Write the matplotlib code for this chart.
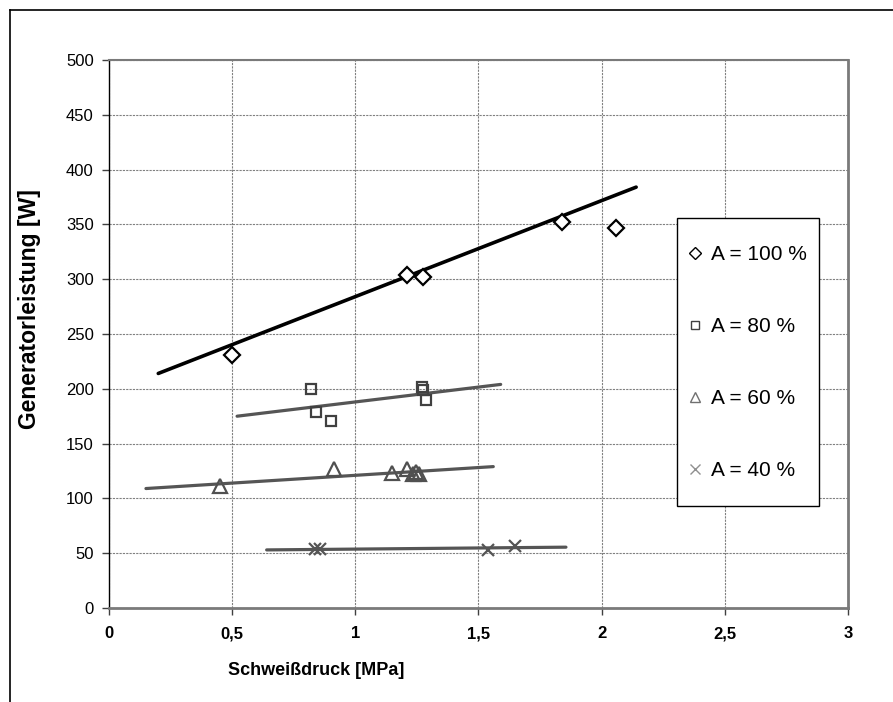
import matplotlib
matplotlib.use("Agg")
import matplotlib.pyplot as plt
from matplotlib.lines import Line2D
from matplotlib.patches import Rectangle

plt.rcParams['font.family'] = ['Liberation Sans', 'DejaVu Sans']

# measured points per amplitude
x_100 = [0.50, 1.21, 1.275, 1.84, 2.06]
y_100 = [231, 304, 302, 352, 347]

x_80 = [0.82, 0.84, 0.90, 1.27, 1.275, 1.285]
y_80 = [200, 179, 171, 202, 199, 190]

x_60 = [0.45, 0.915, 1.15, 1.21, 1.235, 1.245, 1.26]
y_60 = [111, 127, 123, 127, 122, 124, 122]

x_40 = [0.835, 0.855, 1.54, 1.65]
y_40 = [54, 54, 53, 57]

# linear trend lines (start/end)
trend_x_100 = [0.20, 2.14]
trend_y_100 = [214, 384]
trend_x_80 = [0.52, 1.59]
trend_y_80 = [175, 204]
trend_x_60 = [0.15, 1.56]
trend_y_60 = [109, 129]
trend_x_40 = [0.64, 1.855]
trend_y_40 = [53, 55.5]

labels = ['A = 100 %', 'A = 80 %', 'A = 60 %', 'A = 40 %']
x_ticks = [0, 0.5, 1, 1.5, 2, 2.5, 3]
x_ticklabels = ['0', '0,5', '1', '1,5', '2', '2,5', '3']
y_ticks = list(range(0, 501, 50))

W, H = 893, 702
fig = plt.figure(figsize=(W / 100, H / 100), dpi=100)
ax = fig.add_axes([109 / W, 1 - 608 / H, (848 - 109) / W, (608 - 60) / H])

ax.set_xlim(0, 3)
ax.set_ylim(0, 500)
ax.set_xticks(x_ticks)
ax.set_xticklabels(x_ticklabels, fontweight='bold', fontsize=12)
ax.set_yticks(y_ticks)
ax.tick_params(axis='y', labelsize=12, length=5, width=1, pad=6, color='#404040')
ax.tick_params(axis='x', length=5, width=1, pad=8, color='#404040')

ax.grid(True, color='#808080', linestyle=(0, (2, 1)), linewidth=0.8)
ax.set_axisbelow(True)

ax.spines['left'].set_color('black')
ax.spines['left'].set_linewidth(1.0)
for side in ('bottom', 'right', 'top'):
    ax.spines[side].set_color('#7a7a7a')
ax.spines['bottom'].set_linewidth(2.0)
ax.spines['right'].set_linewidth(2.0)
ax.spines['top'].set_linewidth(1.5)

# trend lines
ax.plot(trend_x_100, trend_y_100, color='black', lw=2.6, solid_capstyle='round')
ax.plot(trend_x_80, trend_y_80, color='#555555', lw=2.3, solid_capstyle='round')
ax.plot(trend_x_60, trend_y_60, color='#555555', lw=2.3, solid_capstyle='round')
ax.plot(trend_x_40, trend_y_40, color='#555555', lw=2.3, solid_capstyle='round')

# measured points
ax.plot(x_100, y_100, 'D', ms=8, mfc='white', mec='black', mew=1.6, ls='none')
ax.plot(x_80, y_80, 's', ms=7.5, mfc='none', mec='#404040', mew=1.6, ls='none')
ax.plot(x_60, y_60, '^', ms=10, mfc='none', mec='#505050', mew=1.6, ls='none')
ax.plot(x_40, y_40, 'x', ms=8, mec='#555555', mew=1.6, ls='none')

ax.set_xlabel('Schweißdruck [MPa]', fontweight='bold', fontsize=13)
ax.xaxis.set_label_coords(0.28, -0.098)
ax.set_ylabel('Generatorleistung [W]', fontweight='bold', fontsize=16.5)
ax.yaxis.set_label_coords(-0.092, 0.545)

# legend: frame drawn separately, entries spread over its height
fig.add_artist(Rectangle((677 / W, 1 - 506 / H), (819 - 677) / W, (506 - 218) / H,
                         transform=fig.transFigure, facecolor='white',
                         edgecolor='black', lw=1.0, zorder=3))
leg_handles = [
    Line2D([], [], marker='D', ms=6, mfc='white', mec='black', mew=1.0, ls='none'),
    Line2D([], [], marker='s', ms=6, mfc='white', mec='#404040', mew=1.0, ls='none'),
    Line2D([], [], marker='^', ms=7, mfc='white', mec='#707070', mew=1.0, ls='none'),
    Line2D([], [], marker='x', ms=7, mec='#909090', mew=1.0, ls='none'),
]
leg = fig.legend(leg_handles, labels, loc='upper left',
                 bbox_to_anchor=(689 / W, 1 - 245 / H), fontsize=15,
                 frameon=False, handlelength=0.6, handletextpad=0.45,
                 labelspacing=2.55, borderpad=0, borderaxespad=0)
leg.set_zorder(4)

# outer chart frame
fig.add_artist(Line2D([10 / W, 10 / W], [0, 1 - 10 / H], transform=fig.transFigure,
                      color='black', lw=1.2))
fig.add_artist(Line2D([10 / W, 1], [1 - 10 / H, 1 - 10 / H], transform=fig.transFigure,
                      color='black', lw=1.2))

fig.savefig('out.png', dpi=100)
